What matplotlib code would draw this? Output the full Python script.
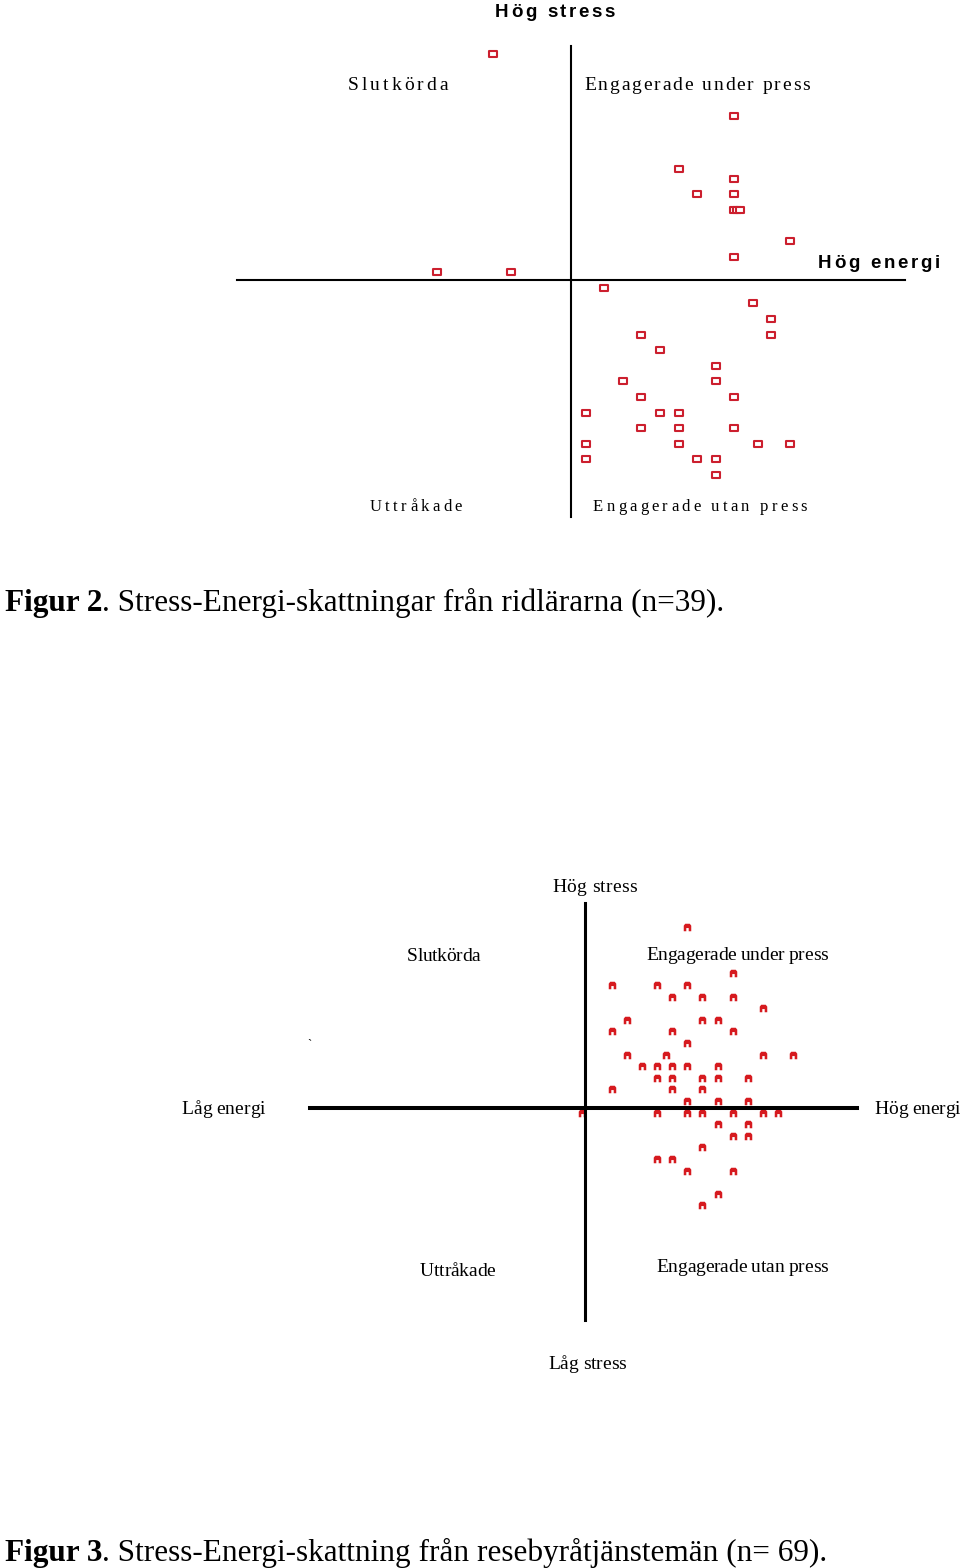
import matplotlib
matplotlib.use("Agg")
import matplotlib.pyplot as plt
from matplotlib.path import Path

# Figur 2: ridlärare (n=39), energi (x) och stress (y) som skattningssteg
rid_energy = [4, 17, 14, 17, 15, 17, 17, 17.15, 17.3, 20, 17, 1, 5, 10, 18, 19, 19, 12,
              13, 16, 11, 16, 12, 17, 9, 13, 14, 12, 14, 17, 9, 14, 18.3, 20, 9, 15, 16, 16]
rid_stress = [28, 24, 20.6, 20, 19, 19, 18, 18, 18, 16, 15, 14, 14, 13, 12, 11, 10, 10,
              9, 8, 7, 7, 6, 6, 5, 5, 5, 4, 4, 4, 3, 3, 3, 3, 2, 2, 2, 1]

# Figur 3: resebyråtjänstemän (n=69), synliga punkter
res_energy = [15,
              18,
              10, 13, 15,
              14, 16, 18,
              20,
              11, 16, 17,
              10, 14, 18,
              15,
              11, 13.6, 20, 22,
              12, 13, 14, 15, 17,
              13, 14, 16, 17, 19,
              10, 14, 16,
              15, 17, 19,
              8, 13, 15, 16, 18, 20, 21,
              17, 19,
              18, 19,
              16,
              13, 14,
              15, 18,
              17,
              16]
res_stress = [26,
              22,
              21, 21, 21,
              20, 20, 20,
              19,
              18, 18, 18,
              17, 17, 17,
              16,
              15, 15, 15, 15,
              14, 14, 14, 14, 14,
              13, 13, 13, 13, 13,
              12, 12, 12,
              11, 11, 11,
              10, 10, 10, 10, 10, 10, 10,
              9, 9,
              8, 8,
              7,
              6, 6,
              5, 5,
              3,
              2]

caption2 = ("Figur 2", ". Stress-Energi-skattningar från ridlärarna (n=39).")
caption3 = ("Figur 3", ". Stress-Energi-skattning från resebyråtjänstemän (n= 69).")

W, H = 960, 1568
RED_TOP = "#cc1f2e"
RED_BOT = "#d61a1f"
SERIF = "Liberation Serif"
SANS = "Liberation Sans"

fig = plt.figure(figsize=(W / 100, H / 100), dpi=100)
fig.patch.set_facecolor("white")
renderer = fig.canvas.get_renderer()


def panel(top_px, bottom_px, x_ref, x_ref_px, x_step, y_ref, y_ref_px, y_step):
    ax = fig.add_axes([0, 1 - bottom_px / H, 1, (bottom_px - top_px) / H])
    ax.set_xlim(x_ref - x_ref_px / x_step, x_ref + (W - x_ref_px) / x_step)
    ax.set_ylim(y_ref - (bottom_px - y_ref_px) / y_step, y_ref + (y_ref_px - top_px) / y_step)
    ax.axis("off")
    return ax


def text_width(s, **kw):
    t = fig.text(0, 0, s, **kw)
    w = t.get_window_extent(renderer).width
    t.remove()
    return w


def spaced_text(x, y, s, width, **kw):
    # letter-spaced text stretched (or squeezed) to a given pixel width
    bar = text_width("||", **kw)
    widths = [text_width("|" + ch + "|", **kw) - bar for ch in s]
    gap = (width - sum(widths)) / (len(s) - 1)
    for ch, w in zip(s, widths):
        if ch != " ":
            fig.text(x / W, 1 - y / H, ch, va="baseline", ha="left", **kw)
        x += w + gap


def caption(x, y, parts, size):
    bold = fig.text(x / W, 1 - y / H, parts[0], family=SERIF, weight="bold",
                    fontsize=size, va="baseline")
    w = bold.get_window_extent(renderer).width
    fig.text((x + w) / W, 1 - y / H, parts[1], family=SERIF, fontsize=size, va="baseline")


rect_marker = Path([(-1.4, -1), (1.4, -1), (1.4, 1), (-1.4, 1), (-1.4, -1)],
                   [Path.MOVETO, Path.LINETO, Path.LINETO, Path.LINETO, Path.CLOSEPOLY])
arch_marker = Path([(-1, -1), (-1, 0.5), (-0.6, 1), (0.6, 1), (1, 0.5), (1, -1),
                    (0.32, -1), (0.32, -0.15), (-0.32, -0.15), (-0.32, -1), (-1, -1)],
                   [Path.MOVETO] + [Path.LINETO] * 9 + [Path.CLOSEPOLY])

# --- Figur 2 ---
ax1 = panel(0, 560, 9, 585.7, 18.56, 1, 475, 15.6)
ax1.plot([8.2, 8.2], [-1.7, 28.5], color="black", lw=1.5, zorder=1)
ax1.plot([-9.8, 26.2], [13.5, 13.5], color="black", lw=1.5, zorder=1)
ax1.plot(rid_energy, rid_stress, linestyle="none", marker=rect_marker, ms=5.8,
         mfc="white", mec=RED_TOP, mew=1.5, zorder=2)

spaced_text(495, 17, "Hög stress", 120, family=SANS, weight="bold", fontsize=13.5)
spaced_text(818, 268, "Hög energi", 122, family=SANS, weight="bold", fontsize=13.5)
spaced_text(348, 90, "Slutkörda", 100, family=SERIF, fontsize=14)
spaced_text(584, 90, "Engagerade under press", 226, family=SERIF, fontsize=14)
spaced_text(370, 511, "Uttråkade", 92, family=SERIF, fontsize=12)
spaced_text(593, 511, "Engagerade utan press", 214, family=SERIF, fontsize=12)

caption(5, 611, caption2, 22.5)

# --- Figur 3 ---
ax2 = panel(640, 1568, 10, 612.3, 15.03, 10, 1112.5, 11.6)
ax2.plot(res_energy, res_stress, linestyle="none", marker=arch_marker, ms=5.4,
         mfc=RED_BOT, mec=RED_BOT, mew=0, zorder=2)
ax2.plot([8.2, 8.2], [-7.9, 28.1], color="black", lw=2.2, zorder=3)
ax2.plot([-10.1, 26.3], [10.35, 10.35], color="black", lw=2.9, zorder=3)

spaced_text(552, 892, "Hög stress", 85, family=SERIF, fontsize=14)
spaced_text(407, 961, "Slutkörda", 73, family=SERIF, fontsize=14)
spaced_text(646, 960, "Engagerade under press", 182, family=SERIF, fontsize=14)
spaced_text(181, 1114, "Låg energi", 84, family=SERIF, fontsize=14)
spaced_text(874, 1114, "Hög energi", 86, family=SERIF, fontsize=14)
spaced_text(420, 1276, "Uttråkade", 75, family=SERIF, fontsize=14)
spaced_text(656, 1272, "Engagerade utan press", 172, family=SERIF, fontsize=14)
spaced_text(548, 1369, "Låg stress", 78, family=SERIF, fontsize=14)
fig.text(307 / W, 1 - 1048 / H, "`", family=SERIF, fontsize=9, va="baseline")

caption(5, 1561, caption3, 22.5)

fig.savefig("out.png", dpi=100, facecolor="white")
